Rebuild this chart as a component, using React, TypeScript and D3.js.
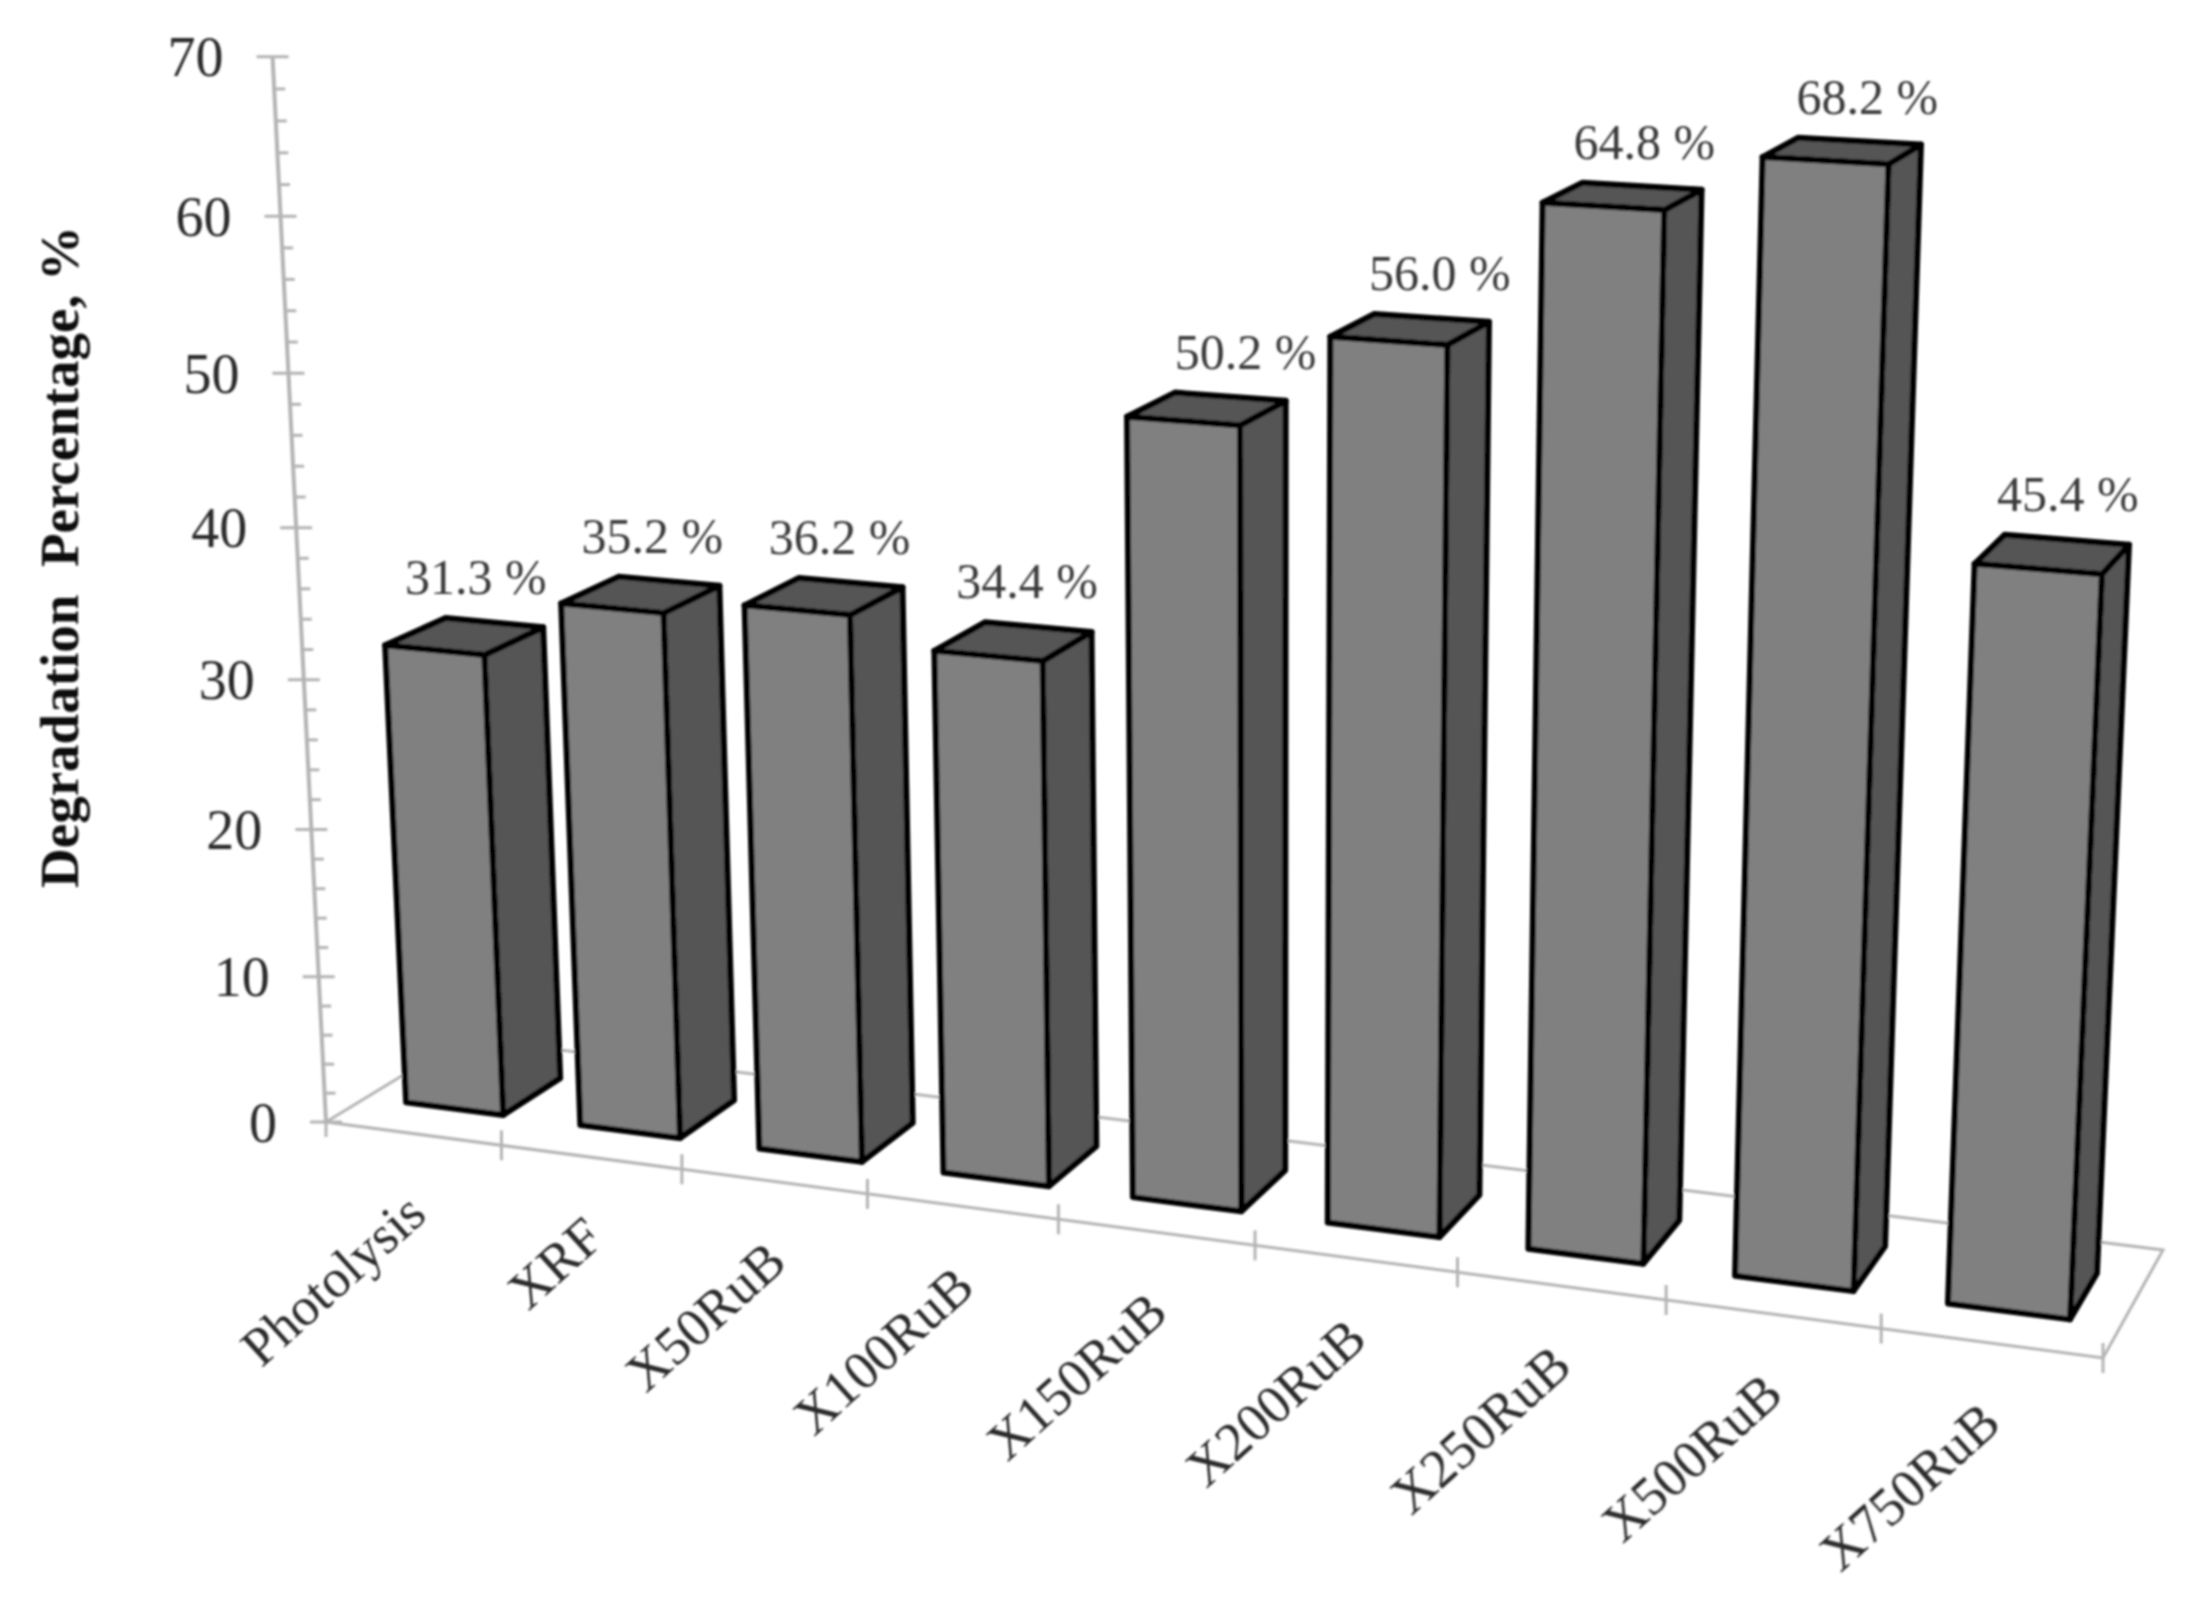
import React from "react";
import * as d3 from "d3";

const categories = ["Photolysis", "XRF", "X50RuB", "X100RuB", "X150RuB", "X200RuB", "X250RuB", "X500RuB", "X750RuB"];
const values = [31.3, 35.2, 36.2, 34.4, 50.2, 56.0, 64.8, 68.2, 45.4];
const majorTicks = [0, 10, 20, 30, 40, 50, 60, 70];
const minorTicks = d3.range(0, 70, 2).filter((v) => v % 10 !== 0);
const yTitle = "Degradation  Percentage, %";

const W = 2194;
const H = 1604;

const c0: [number, number] = [326, 1122];
const c1: [number, number] = [2103, 1358];
const c2: [number, number] = [2163, 1250];
const c3: [number, number] = [464, 1038];
const vanish: [number, number] = [1273, 20000];
const iTerm = -0.000763;
const heightFalloff = 0.0105;

// hand-placed value labels: horizontal nudge from each bar's top centre
const labelNudge = [-6, -5.5, -1.5, -3.5, 21.5, 12.5, 4.5, 8, -1.5];

const dx1 = c1[0] - c2[0], dx2 = c3[0] - c2[0], sx = c0[0] - c1[0] + c2[0] - c3[0];
const dy1 = c1[1] - c2[1], dy2 = c3[1] - c2[1], sy = c0[1] - c1[1] + c2[1] - c3[1];
const den = dx1 * dy2 - dx2 * dy1;
const g = (sx * dy2 - dx2 * sy) / den;
const h = (dx1 * sy - sx * dy1) / den;
const a = c1[0] - c0[0] + g * c1[0], b = c3[0] - c0[0] + h * c3[0];
const d = c1[1] - c0[1] + g * c1[1], e = c3[1] - c0[1] + h * c3[1];

const yScale = d3.scaleLinear().domain([0, 70]).range([0, 70]);
const xBand = d3.scaleBand<string>().domain(categories).range([0, 1]).paddingInner(0.44).paddingOuter(0.23);
const xStep = d3.scaleLinear().domain([0, categories.length]).range([0, 1]);
const depth = d3.scaleLinear().domain([0, 1]).range([0.285, 0.715]);

function project(s: number, t: number, val: number): [number, number] {
  const v = yScale(val) * (1 - heightFalloff * s);
  const w = 1 + g * s + h * t + iTerm * v;
  return [
    (a * s + b * t + c0[0] + vanish[0] * iTerm * v) / w,
    (d * s + e * t + c0[1] + vanish[1] * iTerm * v) / w,
  ];
}

const poly = (pts: [number, number][]) => (d3.line()(pts) ?? "") + "Z";
const seg = (p: [number, number], q: [number, number]) => d3.line()([p, q]) ?? "";

const FRONT = "#808080";
const DARK = "#555555";
const AXIS = "#b4b4b4";
const SERIF = "'Liberation Serif', 'Times New Roman', serif";

export default function App() {
  const t0 = depth(0), t1 = depth(1);
  return (
    <svg width={W} height={H} viewBox={`0 0 ${W} ${H}`} style={{ position: "absolute", left: 0, top: 0, display: "block", background: "#fff" }}>
      <defs>
        <filter id="soft" x="0" y="0" width={W} height={H} filterUnits="userSpaceOnUse">
          <feGaussianBlur stdDeviation="1.3" />
        </filter>
      </defs>
      <g filter="url(#soft)" style={{ fontFamily: SERIF }}>
        {/* floor */}
        <path d={poly([project(0, 0, 0), project(1, 0, 0), project(1, 1, 0), project(0, 1, 0)])} fill="none" stroke={AXIS} strokeWidth={3} />
        {/* value axis */}
        <path d={seg(project(0, 0, 0), project(0, 0, 70))} stroke={AXIS} strokeWidth={4} fill="none" />
        {majorTicks.map((v) => {
          const [x, y] = project(0, 0, v);
          return (
            <g key={v}>
              <line x1={x - 16} x2={x + 16} y1={y} y2={y} stroke={AXIS} strokeWidth={3} />
              <text x={x - 49} y={y} dy="0.35em" textAnchor="end" fontSize={56} fill="#2a2a2a">{v}</text>
            </g>
          );
        })}
        {minorTicks.map((v) => {
          const [x, y] = project(0, 0, v);
          return <line key={v} x1={x} x2={x + 11} y1={y} y2={y} stroke={AXIS} strokeWidth={3} />;
        })}
        {/* category ticks */}
        {categories.map((_, i) => {
          const [x, y] = project(xStep(i + 1), 0, 0);
          return <line key={i} x1={x} x2={x} y1={y - 15} y2={y + 15} stroke={AXIS} strokeWidth={3} />;
        })}
        <line x1={c0[0]} x2={c0[0]} y1={c0[1]} y2={c0[1] + 15} stroke={AXIS} strokeWidth={3} />
        {/* bars */}
        {categories.map((c, i) => {
          const s0 = xBand(c) as number;
          const s1 = s0 + xBand.bandwidth();
          const v = values[i];
          const fl = project(s0, t0, 0), fr = project(s1, t0, 0), br = project(s1, t1, 0);
          const tfl = project(s0, t0, v), tfr = project(s1, t0, v), tbr = project(s1, t1, v), tbl = project(s0, t1, v);
          return (
            <g key={c} stroke="#000" strokeWidth={6} strokeLinejoin="round">
              <path d={poly([fr, br, tbr, tfr])} fill={DARK} />
              <path d={poly([tfl, tfr, tbr, tbl])} fill={DARK} />
              <path d={poly([fl, fr, tfr, tfl])} fill={FRONT} />
            </g>
          );
        })}
        {/* value labels */}
        {categories.map((c, i) => {
          const s = (xBand(c) as number) + xBand.bandwidth() / 2;
          const v = values[i];
          const [x] = project(s, (t0 + t1) / 2, v);
          const [, y] = project(s - xBand.bandwidth() / 2, t1, v);
          return (
            <text key={c} x={x + 17 + labelNudge[i]} y={y - 24} textAnchor="middle" fontSize={50} fill="#3a3a3a">
              {`${v.toFixed(1)} %`}
            </text>
          );
        })}
        {/* category labels */}
        {categories.map((c) => {
          const s = (xBand(c) as number) + xBand.bandwidth() / 2;
          const [x, y] = project(s, 0, 0);
          return (
            <text key={c} transform={`translate(${x + 14},${y + 84}) rotate(-42)`} textAnchor="end" fontSize={54} fill="#2a2a2a">
              {c}
            </text>
          );
        })}
        {/* axis title */}
        <text transform="translate(78,557) rotate(-90)" textAnchor="middle" fontSize={55} fontWeight="bold" fill="#111" style={{ whiteSpace: "pre" }}>
          {yTitle}
        </text>
      </g>
    </svg>
  );
}
